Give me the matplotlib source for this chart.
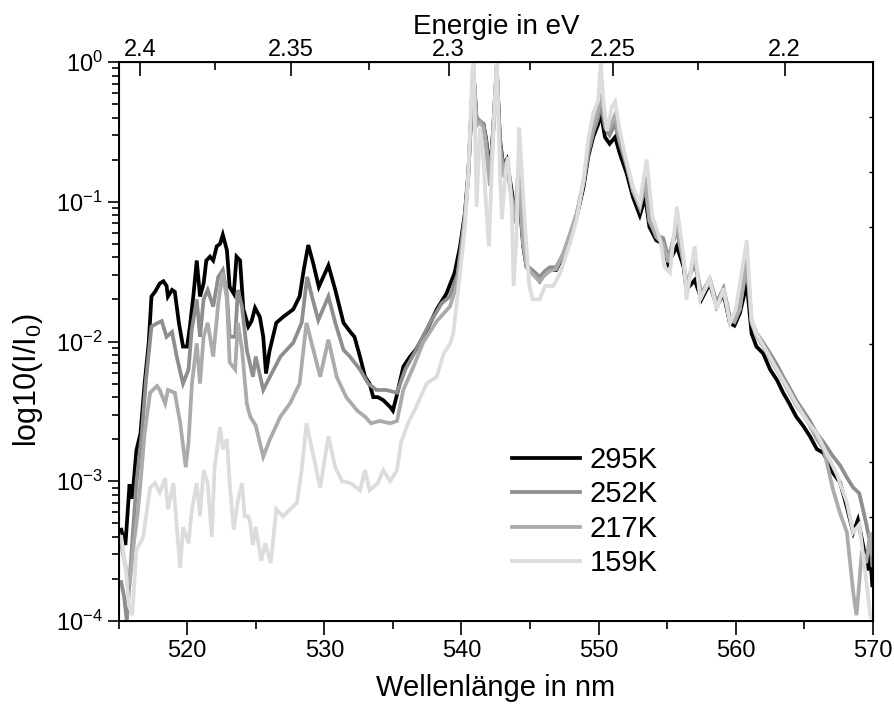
import numpy as np
import matplotlib
matplotlib.use('Agg')
import matplotlib.pyplot as plt

plt.rcParams['font.family'] = ['Liberation Sans', 'DejaVu Sans']
plt.rcParams['mathtext.fontset'] = 'custom'
plt.rcParams['mathtext.rm'] = 'Liberation Sans'
plt.rcParams['mathtext.it'] = 'Liberation Sans:italic'

# spectra, wavelength in nm / relative intensity
nm_295 = [515.2, 515.5, 515.8, 516.0, 516.3, 516.6, 516.9, 517.2, 517.4, 517.66, 518.0, 518.27,
          518.5, 518.6, 518.9, 519.1, 519.4, 519.7, 520.0, 520.2, 520.45, 520.7, 520.94, 521.2,
          521.4, 521.67, 521.9, 522.16, 522.4, 522.6, 522.9, 523.1, 523.4, 523.6, 523.86, 524.1,
          524.46, 524.7, 524.95, 525.3, 525.55, 525.75, 526.0, 526.5, 527.0, 527.74, 528.2, 528.5,
          528.83, 529.2, 529.6, 530.3, 530.8, 531.4, 531.9, 532.2, 532.6, 532.97, 533.3, 533.57,
          533.9, 534.3, 534.8, 535.0, 535.28, 535.76, 536.25, 536.7, 537.46, 538.2, 538.9, 539.5,
          539.9, 540.25, 540.5, 540.74, 540.86, 541.1, 541.35, 541.6, 541.8, 542.07, 542.3, 542.57,
          542.8, 543.05, 543.3, 543.66, 543.9, 544.15, 544.5, 544.75, 545.23, 545.7, 546.1, 546.45,
          546.9, 547.4, 547.9, 548.4, 548.9, 549.24, 549.6, 549.97, 550.15, 550.46, 550.8, 551.2,
          551.55, 552.04, 552.5, 553.0, 553.4, 553.7, 554.2, 554.7, 555.07, 555.7, 556.2, 556.4,
          557.0, 557.5, 558.1, 558.6, 559.1, 559.57, 559.9, 560.3, 560.8, 561.15, 561.5, 562.0,
          562.5, 563.0, 563.45, 563.9, 564.4, 564.9, 565.4, 565.9, 566.4, 567.1, 567.6, 568.08,
          568.56, 568.9, 569.3, 569.6, 569.8, 569.95]
I_295 = [4.5e-4, 3.5e-4, 9.5e-4, 7.5e-4, 1.66e-3, 2.2e-3, 5e-3, 9.8e-3, 0.021, 0.0227, 0.026, 0.027,
         0.025, 0.021, 0.0234, 0.0227, 0.0136, 0.0092, 0.0092, 0.0128, 0.021, 0.038, 0.021, 0.026,
         0.038, 0.0405, 0.038, 0.048, 0.05, 0.058, 0.045, 0.0246, 0.022, 0.0405, 0.038, 0.017,
         0.0128, 0.014, 0.0174, 0.015, 0.0108, 0.0059, 0.0085, 0.0136, 0.015, 0.017, 0.021, 0.0325,
         0.049, 0.036, 0.0246, 0.035, 0.0234, 0.0136, 0.0117, 0.0108, 0.0078, 0.0056, 0.005, 0.004,
         0.004, 0.0038, 0.0034, 0.0032, 0.0041, 0.0066, 0.0078, 0.0088, 0.012, 0.017, 0.022, 0.031,
         0.048, 0.083, 0.16, 0.48, 0.9, 0.38, 0.37, 0.36, 0.28, 0.16, 0.32, 0.93,
         0.28, 0.18, 0.2, 0.12, 0.083, 0.13, 0.048, 0.034, 0.031, 0.027, 0.031, 0.0325,
         0.0325, 0.0405, 0.056, 0.078, 0.128, 0.21, 0.29, 0.36, 0.44, 0.29, 0.26, 0.29,
         0.22, 0.16, 0.108, 0.08, 0.108, 0.066, 0.053, 0.05, 0.036, 0.048, 0.034, 0.0234,
         0.0275, 0.02, 0.026, 0.0178, 0.022, 0.0135, 0.013, 0.016, 0.026, 0.0114, 0.0092, 0.0082,
         0.0063, 0.0053, 0.0043, 0.0036, 0.0029, 0.0025, 0.0021, 0.0017, 0.00159, 0.00114, 0.00098, 0.00066,
         0.00043, 0.00053, 0.00034, 0.00023, 0.0003, 0.00018]

nm_252 = [515.2, 515.4, 515.6, 515.96, 516.3, 516.7, 517.0, 517.4, 517.8, 518.15, 518.5, 518.9,
          519.24, 519.7, 520.1, 520.33, 520.7, 520.94, 521.2, 521.5, 521.9, 522.27, 522.6, 522.9,
          523.1, 523.5, 523.7, 524.0, 524.35, 524.8, 525.0, 525.55, 526.04, 526.8, 527.74, 528.35,
          528.75, 529.1, 529.56, 530.3, 530.8, 531.4, 531.87, 532.6, 533.2, 533.8, 534.5, 535.3,
          535.9, 536.7, 537.7, 538.56, 539.16, 539.7, 540.0, 540.25, 540.5, 540.74, 540.86, 541.1,
          541.35, 541.6, 541.8, 542.07, 542.3, 542.57, 542.8, 543.05, 543.3, 543.66, 543.9, 544.15,
          544.5, 544.75, 545.23, 545.7, 546.1, 546.45, 546.9, 547.4, 547.9, 548.4, 548.9, 549.24,
          549.6, 549.97, 550.15, 550.46, 550.8, 551.2, 551.55, 552.04, 552.5, 553.0, 553.4, 553.7,
          554.2, 554.7, 555.07, 555.7, 556.2, 556.4, 557.0, 557.5, 558.1, 558.6, 559.1, 559.57,
          559.9, 560.3, 560.8, 561.15, 561.5, 562.0, 562.5, 563.0, 563.45, 563.9, 564.4, 564.9,
          565.4, 565.9, 566.4, 567.1, 567.6, 568.08, 568.56, 569.0, 569.5, 569.8, 569.95]
I_252 = [1.9e-4, 1.5e-4, 1.0e-4, 3.2e-4, 9.7e-4, 2.2e-3, 5.3e-3, 0.0128, 0.0135, 0.014, 0.0108, 0.0117,
         0.0078, 0.005, 0.0063, 0.012, 0.02, 0.0108, 0.02, 0.0234, 0.0178, 0.029, 0.0325, 0.022,
         0.0108, 0.0108, 0.0234, 0.0178, 0.0087, 0.0056, 0.0078, 0.0045, 0.0056, 0.0078, 0.0098, 0.0136,
         0.029, 0.021, 0.0142, 0.021, 0.0136, 0.0087, 0.0078, 0.0063, 0.005, 0.0045, 0.0045, 0.0043,
         0.0063, 0.0087, 0.0136, 0.0188, 0.021, 0.03, 0.05, 0.08, 0.16, 0.5, 0.9, 0.4,
         0.38, 0.36, 0.27, 0.15, 0.3, 0.9, 0.27, 0.17, 0.19, 0.11, 0.08, 0.14,
         0.05, 0.035, 0.032, 0.029, 0.032, 0.034, 0.034, 0.042, 0.058, 0.082, 0.135, 0.22,
         0.31, 0.4, 0.52, 0.34, 0.3, 0.36, 0.26, 0.18, 0.12, 0.09, 0.13, 0.072,
         0.058, 0.055, 0.04, 0.062, 0.036, 0.026, 0.036, 0.022, 0.028, 0.019, 0.024, 0.015,
         0.014, 0.018, 0.034, 0.014, 0.0115, 0.0098, 0.0082, 0.0068, 0.0056, 0.0047, 0.0038, 0.0032,
         0.0027, 0.0022, 0.0019, 0.0015, 0.0013, 0.00107, 0.0009, 0.00082, 0.0005, 0.00036, 0.00025]

nm_217 = [515.2, 515.5, 515.8, 516.1, 516.4, 516.6, 516.9, 517.3, 517.8, 518.0, 518.4, 518.6,
          519.1, 519.5, 519.9, 520.1, 520.35, 520.7, 520.94, 521.2, 521.5, 521.9, 522.27, 522.6,
          522.9, 523.1, 523.5, 523.7, 524.0, 524.35, 524.6, 525.0, 525.55, 526.04, 526.8, 527.5,
          528.2, 528.7, 529.2, 529.7, 530.3, 530.9, 531.6, 532.4, 532.97, 533.4, 534.05, 534.8,
          535.3, 535.76, 536.5, 537.2, 538.2, 539.16, 539.7, 540.0, 540.25, 540.5, 540.74, 540.86,
          541.1, 541.35, 541.6, 541.8, 542.07, 542.3, 542.57, 542.8, 543.05, 543.3, 543.66, 543.9,
          544.15, 544.5, 544.75, 545.23, 545.7, 546.1, 546.45, 546.9, 547.4, 547.9, 548.4, 548.9,
          549.24, 549.6, 549.97, 550.15, 550.46, 550.8, 551.2, 551.55, 552.04, 552.5, 553.0, 553.4,
          553.7, 554.2, 554.7, 555.07, 555.7, 556.2, 556.4, 557.0, 557.5, 558.1, 558.6, 559.1,
          559.57, 559.9, 560.3, 560.8, 561.15, 561.5, 562.0, 562.5, 563.0, 563.45, 563.9, 564.4,
          564.9, 565.4, 565.9, 566.4, 567.1, 567.6, 568.1, 568.56, 568.8, 569.2, 569.5, 569.8, 569.95]
I_217 = [3.5e-4, 2.5e-4, 1.8e-4, 3.5e-4, 6e-4, 9.8e-4, 2.2e-3, 4.3e-3, 4.8e-3, 4.5e-3, 3.6e-3, 4.5e-3,
         4.3e-3, 2.6e-3, 1.26e-3, 1.9e-3, 5e-3, 9.7e-3, 5e-3, 0.0108, 0.0136, 0.0078, 0.0188, 0.031,
         0.02, 0.0071, 0.0063, 0.0136, 0.0088, 0.0036, 0.0029, 0.0025, 0.0015, 0.002, 0.0029, 0.0036,
         0.005, 0.0136, 0.0087, 0.0056, 0.0103, 0.0056, 0.004, 0.0032, 0.0029, 0.0026, 0.0027, 0.0026,
         0.0027, 0.0045, 0.0066, 0.0098, 0.014, 0.0178, 0.026, 0.045, 0.075, 0.15, 0.5, 0.92,
         0.35, 0.37, 0.34, 0.24, 0.13, 0.3, 0.95, 0.25, 0.15, 0.2, 0.1, 0.07,
         0.18, 0.05, 0.034, 0.03, 0.027, 0.03, 0.032, 0.033, 0.042, 0.058, 0.082, 0.14,
         0.24, 0.34, 0.45, 0.6, 0.38, 0.34, 0.42, 0.28, 0.19, 0.12, 0.092, 0.15,
         0.075, 0.056, 0.05, 0.037, 0.07, 0.036, 0.025, 0.04, 0.021, 0.027, 0.018, 0.023,
         0.0142, 0.0138, 0.017, 0.04, 0.0135, 0.011, 0.0092, 0.0075, 0.0062, 0.0052, 0.0043, 0.0035,
         0.003, 0.0025, 0.002, 0.0017, 0.00086, 0.00059, 0.00043, 0.00016, 0.00011, 0.00032, 0.00026, 0.00043, 0.0003]

nm_159 = [515.2, 515.5, 515.75, 516.0, 516.3, 516.8, 517.0, 517.3, 517.66, 518.0, 518.4, 518.6,
          519.0, 519.24, 519.5, 519.7, 520.1, 520.35, 520.7, 520.94, 521.2, 521.5, 521.8, 522.0,
          522.4, 522.6, 522.9, 523.1, 523.4, 523.7, 524.0, 524.2, 524.46, 524.6, 524.8, 525.0,
          525.4, 525.7, 526.1, 526.5, 527.0, 527.5, 528.0, 528.35, 528.7, 529.1, 529.7, 530.3,
          530.8, 531.3, 531.9, 532.6, 532.97, 533.3, 533.9, 534.3, 534.8, 535.3, 535.6, 536.1,
          536.7, 537.46, 538.2, 538.7, 539.16, 539.4, 539.9, 540.25, 540.5, 540.8, 540.9, 541.1,
          541.35, 541.6, 541.8, 542.0, 542.3, 542.57, 542.8, 542.95, 543.2, 543.4, 543.66, 543.8,
          544.0, 544.2, 544.4, 544.7, 544.95, 545.2, 545.7, 546.1, 546.7, 547.2, 547.9, 548.4,
          548.9, 549.24, 549.6, 549.97, 550.15, 550.35, 550.6, 550.97, 551.2, 551.55, 552.0, 552.5,
          553.0, 553.5, 553.9, 554.5, 554.8, 555.2, 555.7, 556.2, 556.4, 557.0, 557.4, 558.1,
          558.6, 559.1, 559.57, 560.0, 560.8, 561.15, 561.5, 562.2, 563.0, 563.7, 564.4, 565.2,
          565.9, 566.6, 567.4, 568.1, 568.56, 569.0, 569.4, 569.8, 570.0]
I_159 = [4e-4, 2.5e-4, 1.3e-4, 1.1e-4, 3.2e-4, 4e-4, 5.6e-4, 9e-4, 9.7e-4, 8.3e-4, 1.05e-3, 6.3e-4,
         9.7e-4, 4.7e-4, 2.4e-4, 4.7e-4, 3.6e-4, 6.3e-4, 9.7e-4, 5.6e-4, 1.2e-3, 9.7e-4, 4e-4, 1.26e-3,
         2.45e-3, 1.7e-3, 2e-3, 9.7e-4, 4.5e-4, 7.3e-4, 9.7e-4, 5.6e-4, 5.6e-4, 5e-4, 3.5e-4, 4.7e-4,
         2.7e-4, 3.6e-4, 2.6e-4, 6.3e-4, 5.6e-4, 6.3e-4, 7e-4, 1.2e-3, 2.6e-3, 1.7e-3, 9e-4, 2.1e-3,
         1.26e-3, 1e-3, 9.7e-4, 8.6e-4, 1.2e-3, 8.6e-4, 9.7e-4, 1.2e-3, 1e-3, 1.2e-3, 1.9e-3, 2.6e-3,
         3.4e-3, 5e-3, 5.6e-3, 8.2e-3, 9.6e-3, 0.0114, 0.031, 0.066, 0.16, 0.9, 1.0, 0.092,
         0.34, 0.2, 0.092, 0.048, 0.28, 1.05, 0.16, 0.075, 0.16, 0.21, 0.092, 0.025,
         0.053, 0.34, 0.16, 0.053, 0.025, 0.02, 0.02, 0.025, 0.025, 0.031, 0.05, 0.075,
         0.143, 0.28, 0.43, 0.53, 1.0, 0.53, 0.32, 0.48, 0.52, 0.32, 0.2, 0.128,
         0.097, 0.2, 0.08, 0.053, 0.034, 0.031, 0.092, 0.04, 0.02, 0.048, 0.02, 0.028,
         0.017, 0.024, 0.0135, 0.017, 0.053, 0.0142, 0.0114, 0.0087, 0.0063, 0.0048, 0.0036, 0.0027,
         0.0022, 0.0016, 0.0011, 0.0007, 4.3e-4, 4.9e-4, 2.4e-4, 1.1e-4, 1.0e-4]

labels = ['295K', '252K', '217K', '159K']
colors = ['#000000', '#8e8e8e', '#ababab', '#dcdcdc']

energy_ticks = [2.4, 2.35, 2.3, 2.25, 2.2]
energy_minor = [2.375, 2.325, 2.275, 2.225]
# unlabeled marks on the right spine
right_ticks = [0.403, 0.164, 0.0662, 0.00955, 0.00138, 0.000553, 0.000224]

fig = plt.figure(figsize=(8.94, 7.08), dpi=100)
ax = fig.add_axes([0.1326, 0.1229, 0.8439, 0.7895])

data = [(nm_295, I_295), (nm_252, I_252), (nm_217, I_217), (nm_159, I_159)]
for (x, y), lab, c in zip(data, labels, colors):
    ax.plot(x, y, color=c, lw=2.7, label=lab, solid_joinstyle='miter')

ax.set_yscale('log')
ax.set_xlim(515, 570)
ax.set_ylim(1e-4, 1)
ax.set_xticks(np.arange(520, 571, 10))
ax.set_xticks(np.arange(515, 571, 5), minor=True)
ax.tick_params(axis='x', which='major', labelsize=17, direction='out', length=10, width=1.2, pad=4)
ax.tick_params(axis='x', which='minor', length=6, width=1.2, direction='out')
ax.tick_params(axis='y', which='major', labelsize=17, direction='out', length=8, width=1.2)
ax.tick_params(axis='y', which='minor', length=5, width=1.2, direction='out')
ax.tick_params(right=False, top=False, which='both')
for s in ax.spines.values():
    s.set_linewidth(1.4)

ax.set_xlabel('Wellenlänge in nm', fontsize=21, labelpad=8)
ax.set_ylabel('log10(I/I$_0$)', fontsize=22)
ax.yaxis.set_label_coords(-0.097, 0.43)

# energy scale on top, E = hc / lambda
top = ax.secondary_xaxis('top', functions=(lambda x: 1239.84 / x, lambda e: 1239.84 / e))
top.set_xticks(energy_ticks)
top.set_xticklabels([str(e) for e in energy_ticks])
top.set_xticks(energy_minor, minor=True)
top.tick_params(which='major', direction='in', length=10, width=1.2, labelsize=17, pad=1)
top.tick_params(which='minor', direction='in', length=6, width=1.2)
top.set_xlabel('Energie in eV', fontsize=20, labelpad=3)

rt = ax.twinx()
rt.set_yscale('log')
rt.set_ylim(1e-4, 1)
rt.set_yticks(right_ticks)
rt.set_yticks([], minor=True)
rt.tick_params(axis='y', direction='in', length=3, width=1, labelright=False)

ax.legend(loc='upper left', bbox_to_anchor=(0.5056, 0.334), frameon=False, fontsize=21,
          handlelength=2.33, labelspacing=0.22, handletextpad=0.34, borderaxespad=0)

fig.savefig('out.png', dpi=100)
